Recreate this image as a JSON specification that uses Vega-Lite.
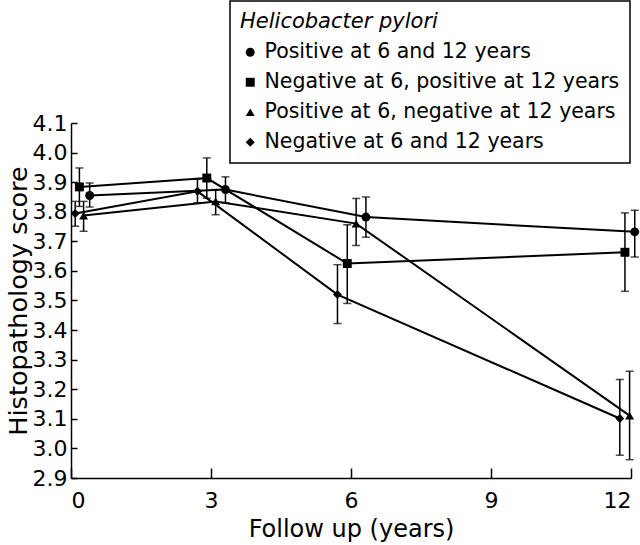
{
  "$schema": "https://vega.github.io/schema/vega-lite/v6.json",
  "width": 560,
  "height": 355,
  "autosize": "none",
  "padding": {"left": 71, "top": 123, "right": 9, "bottom": 67},
  "background": "white",
  "config": {
    "font": "DejaVu Sans",
    "view": {"stroke": null},
    "axis": {
      "grid": false,
      "domainColor": "black",
      "domainWidth": 1.5,
      "tickColor": "black",
      "tickWidth": 1.5,
      "labelColor": "black",
      "titleColor": "black",
      "labelFontSize": 22,
      "titleFontSize": 24,
      "titleFontWeight": "normal",
      "labelOverlap": false
    },
    "axisY": {"labelOverlap": false},
    "axisQuantitative": {"labelOverlap": false},
    "legend": {
      "strokeColor": "black",
      "strokeWidth": 1.5,
      "padding": 10,
      "titleFontSize": 21,
      "titleFontStyle": "italic",
      "titleFontWeight": "normal",
      "titleColor": "black",
      "titleLimit": 0,
      "labelFontSize": 20.5,
      "labelColor": "black",
      "labelLimit": 0,
      "symbolSize": 80,
      "symbolFillColor": "black",
      "symbolStrokeColor": "black",
      "rowPadding": 9,
      "titlePadding": 10,
      "labelOffset": 4
    }
  },
  "data": {
    "values": [
      {"group": "Positive at 6 and 12 years", "year": 0.4, "score": 3.855, "lo": 3.816, "hi": 3.897},
      {"group": "Positive at 6 and 12 years", "year": 3.31, "score": 3.875, "lo": 3.83, "hi": 3.918},
      {"group": "Positive at 6 and 12 years", "year": 6.32, "score": 3.782, "lo": 3.714, "hi": 3.85},
      {"group": "Positive at 6 and 12 years", "year": 12.08, "score": 3.732, "lo": 3.647, "hi": 3.805},
      {"group": "Negative at 6, positive at 12 years", "year": 0.18, "score": 3.884, "lo": 3.818, "hi": 3.948},
      {"group": "Negative at 6, positive at 12 years", "year": 2.91, "score": 3.914, "lo": 3.846, "hi": 3.982},
      {"group": "Negative at 6, positive at 12 years", "year": 5.92, "score": 3.625, "lo": 3.49, "hi": 3.756},
      {"group": "Negative at 6, positive at 12 years", "year": 11.87, "score": 3.663, "lo": 3.531, "hi": 3.796},
      {"group": "Positive at 6, negative at 12 years", "year": 0.27, "score": 3.787, "lo": 3.734, "hi": 3.835},
      {"group": "Positive at 6, negative at 12 years", "year": 3.1, "score": 3.835, "lo": 3.79, "hi": 3.875},
      {"group": "Positive at 6, negative at 12 years", "year": 6.11, "score": 3.76, "lo": 3.686, "hi": 3.845},
      {"group": "Positive at 6, negative at 12 years", "year": 11.97, "score": 3.111, "lo": 2.962, "hi": 3.261},
      {"group": "Negative at 6 and 12 years", "year": 0.09, "score": 3.794, "lo": 3.751, "hi": 3.835},
      {"group": "Negative at 6 and 12 years", "year": 2.71, "score": 3.869, "lo": 3.83, "hi": 3.91},
      {"group": "Negative at 6 and 12 years", "year": 5.71, "score": 3.52, "lo": 3.422, "hi": 3.621},
      {"group": "Negative at 6 and 12 years", "year": 11.76, "score": 3.101, "lo": 2.977, "hi": 3.233}
    ]
  },
  "encoding": {
    "x": {
      "field": "year",
      "type": "quantitative",
      "scale": {"domain": [0, 12], "nice": false, "zero": false},
      "axis": {
        "title": "Follow up (years)",
        "values": [0, 3, 6, 9, 12],
        "tickSize": -10,
        "labelPadding": 22,
        "labelOverlap": false,
        "titleBaseline": "alphabetic",
        "titleY": 58
      }
    },
    "y": {
      "field": "score",
      "type": "quantitative",
      "scale": {"domain": [2.9, 4.1], "nice": false, "zero": false},
      "axis": {
        "title": "Histopathology score",
        "values": [2.9, 3, 3.1, 3.2, 3.3, 3.4, 3.5, 3.6, 3.7, 3.8, 3.9, 4, 4.1],
        "format": ".1f",
        "tickSize": -6,
        "labelPadding": 10,
        "labelOverlap": false,
        "labelSeparation": 0,
        "titleFontSize": 25.5,
        "titleX": -53,
        "titleBaseline": "middle"
      }
    }
  },
  "layer": [
    {
      "mark": {"type": "rule", "color": "black", "strokeWidth": 1.5},
      "encoding": {
        "y": {"field": "lo", "type": "quantitative"},
        "y2": {"field": "hi"}
      }
    },
    {
      "mark": {"type": "tick", "orient": "horizontal", "color": "black", "size": 8, "thickness": 1.5},
      "encoding": {"y": {"field": "lo", "type": "quantitative"}}
    },
    {
      "mark": {"type": "tick", "orient": "horizontal", "color": "black", "size": 8, "thickness": 1.5},
      "encoding": {"y": {"field": "hi", "type": "quantitative"}}
    },
    {
      "mark": {"type": "line", "color": "black", "strokeWidth": 2},
      "encoding": {
        "detail": {"field": "group"},
        "order": {"field": "year"}
      }
    },
    {
      "mark": {"type": "point", "filled": true, "color": "black", "opacity": 1, "size": 80},
      "encoding": {
        "shape": {
          "field": "group",
          "type": "nominal",
          "scale": {
            "domain": ["Positive at 6 and 12 years", "Negative at 6, positive at 12 years", "Positive at 6, negative at 12 years", "Negative at 6 and 12 years"],
            "range": ["circle", "square", "triangle-up", "diamond"]
          },
          "legend": {"title": "Helicobacter pylori", "orient": "none", "legendX": 159, "legendY": -122}
        }
      }
    }
  ]
}
